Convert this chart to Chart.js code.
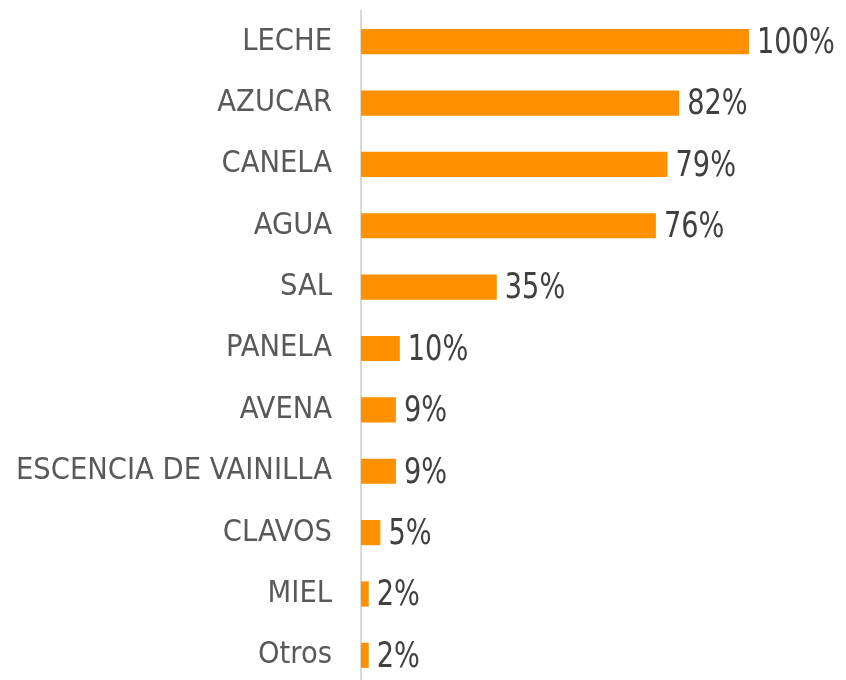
<!DOCTYPE html>
<html>
<head>
<meta charset="utf-8">
<style>
  html, body { margin: 0; padding: 0; background: #ffffff; overflow: hidden; }
  #wrap { width: 846px; height: 690px; }
</style>
<script src="https://cdn.jsdelivr.net/npm/chart.js@4/dist/chart.umd.min.js"></script>
</head>
<body>
<div id="wrap"><canvas id="chart" width="846" height="690"></canvas></div>
<script>
// Data
const categories = ["LECHE", "AZUCAR", "CANELA", "AGUA", "SAL", "PANELA", "AVENA",
  "ESCENCIA DE VAINILLA", "CLAVOS", "MIEL", "Otros"];
const percentages = [100, 82, 79, 76, 35, 10, 9, 9, 5, 2, 2];

const LABEL_FONT = "'DejaVu Sans Condensed', 'DejaVu Sans', sans-serif";

// draws "NN%" right after each bar, squeezed a bit to get the tall narrow digits
const valueLabels = {
  id: "valueLabels",
  afterDatasetsDraw(chart) {
    const ctx = chart.ctx;
    const meta = chart.getDatasetMeta(0);
    const squeeze = 0.84;
    ctx.save();
    ctx.font = "36px " + LABEL_FONT;
    ctx.fillStyle = "#404040";
    ctx.textAlign = "left";
    ctx.textBaseline = "middle";
    meta.data.forEach((bar, i) => {
      ctx.save();
      ctx.translate(bar.x + 8, bar.y + 2);
      ctx.scale(squeeze, 1);
      ctx.fillText(percentages[i] + "%", 0, 0);
      ctx.restore();
    });
    ctx.restore();
  },
};

new Chart(document.getElementById("chart"), {
  type: "bar",
  data: {
    labels: categories,
    datasets: [{
      data: percentages,
      backgroundColor: "#FF9000",
      borderWidth: 0,
      barPercentage: 0.41,
      categoryPercentage: 1,
    }],
  },
  options: {
    indexAxis: "y",
    responsive: false,
    animation: false,
    layout: { padding: { top: 11, right: 97, bottom: 4, left: 0 } },
    plugins: { legend: { display: false }, tooltip: { enabled: false } },
    scales: {
      x: { display: false, min: 0, max: 100 },
      y: {
        afterFit(scale) {
          scale.width = 361;
          scale.paddingTop = 0;
          scale.paddingBottom = 0;
        },
        grid: { display: false, drawTicks: false },
        border: { display: true, color: "#D9D9D9", width: 2 },
        ticks: {
          padding: 29,
          color: "#595959",
          font: { family: LABEL_FONT, size: 30.5 },
        },
      },
    },
  },
  plugins: [valueLabels],
});
</script>
</body>
</html>
